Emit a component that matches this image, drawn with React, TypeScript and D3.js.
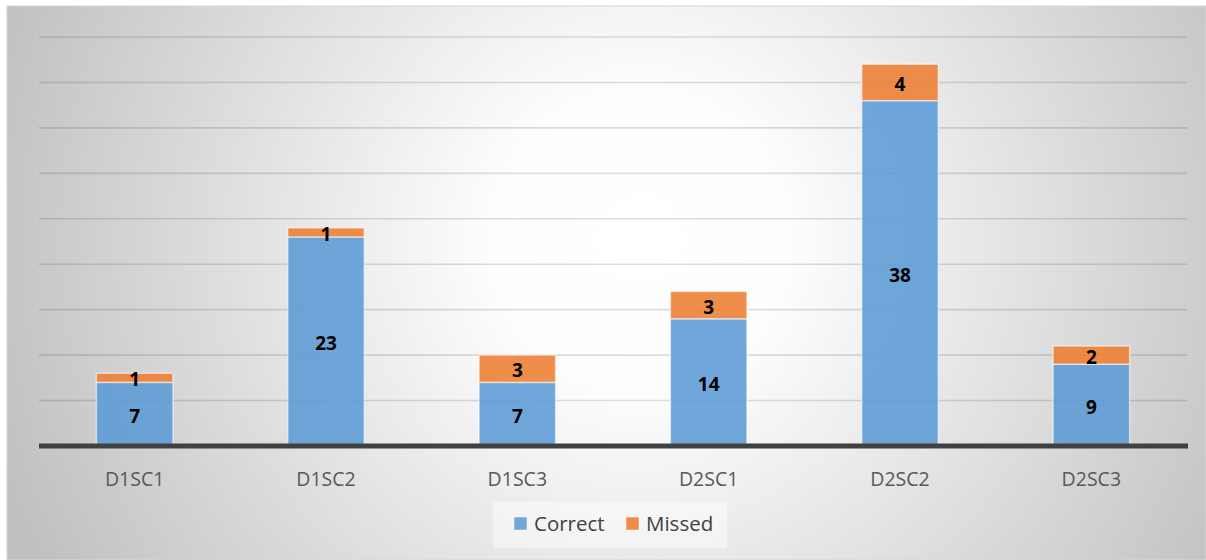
import React from "react";
import * as d3 from "d3";

const categories = ["D1SC1", "D1SC2", "D1SC3", "D2SC1", "D2SC2", "D2SC3"];
const correct = [7, 23, 7, 14, 38, 9];
const missed = [1, 1, 3, 3, 4, 2];
const seriesNames = ["Correct", "Missed"];
const seriesColors = ["#5b9bd5", "#ed7d31"];
const gridTicks = [5, 10, 15, 20, 25, 30, 35, 40, 45];

const W = 1206;
const H = 560;
const plot = { left: 39, right: 1187, top: 37, bottom: 446 };

export default function App() {
  const x = d3
    .scaleBand<string>()
    .domain(categories)
    .range([plot.left, plot.right])
    .paddingInner(0.6)
    .paddingOuter(0.3);
  const y = d3.scaleLinear().domain([0, 45]).range([plot.bottom, plot.top]);

  const rows = categories.map((c, i) => ({ cat: c, Correct: correct[i], Missed: missed[i] }));
  const stacked = d3.stack<any>().keys(seriesNames)(rows);

  const font = "'Open Sans', 'Liberation Sans', sans-serif";

  return (
    <svg
      width={W}
      height={H}
      style={{ position: "absolute", left: 0, top: 0, background: "#ffffff" }}
    >
      <defs>
        <radialGradient id="bg" gradientUnits="userSpaceOnUse" cx={640} cy={240} r={680}>
          <stop offset="0" stopColor="#ffffff" />
          <stop offset="0.22" stopColor="#fdfdfd" />
          <stop offset="1" stopColor="#c0c0c0" />
        </radialGradient>
      </defs>
      <rect x={7} y={6} width={W - 7} height={H - 6} fill="url(#bg)" stroke="#d6d6d6" strokeWidth={1} />

      {/* horizontal gridlines */}
      {gridTicks.map((t) => (
        <line
          key={t}
          x1={plot.left}
          x2={plot.right}
          y1={y(t)}
          y2={y(t)}
          stroke="#000000"
          strokeOpacity={0.13}
          strokeWidth={1.6}
        />
      ))}

      {/* stacked bars */}
      {stacked.map((layer, si) => (
        <g key={layer.key}>
          {layer.map((d, i) => (
            <rect
              key={i}
              x={x(categories[i])}
              y={y(d[1])}
              width={x.bandwidth()}
              height={y(d[0]) - y(d[1])}
              fill={seriesColors[si]}
              fillOpacity={0.88}
              stroke="#ffffff"
              strokeOpacity={0.55}
              strokeWidth={1.5}
            />
          ))}
        </g>
      ))}

      {/* value labels */}
      {stacked.map((layer) => (
        <g key={"lbl" + layer.key}>
          {layer.map((d, i) => (
            <text
              key={i}
              x={(x(categories[i]) as number) + x.bandwidth() / 2}
              y={(y(d[0]) + y(d[1])) / 2}
              dy="0.45em"
              textAnchor="middle"
              fontFamily={font}
              fontWeight="bold"
              fontSize={19}
              fill="#000000"
            >
              {d[1] - d[0]}
            </text>
          ))}
        </g>
      ))}

      {/* baseline */}
      <line x1={plot.left} x2={plot.right + 1} y1={plot.bottom} y2={plot.bottom} stroke="#404040" strokeWidth={5} />

      {/* category labels */}
      {categories.map((c) => (
        <text
          key={c}
          x={(x(c) as number) + x.bandwidth() / 2}
          y={479}
          dy="0.36em"
          textAnchor="middle"
          fontFamily={font}
          fontSize={19.5}
          fill="#595959"
        >
          {c}
        </text>
      ))}

      {/* legend */}
      <rect x={493} y={502} width={234} height={46} fill="#ffffff" fillOpacity={0.45} />
      {seriesNames.map((s, i) => {
        const lx = i === 0 ? 514 : 626;
        return (
          <g key={s}>
            <rect x={lx} y={517} width={13} height={13} fill={seriesColors[i]} fillOpacity={0.88} stroke="#ffffff" strokeOpacity={0.5} />
            <text x={lx + 20} y={523.5} dy="0.36em" fontFamily={font} fontSize={20.5} fill="#404040">
              {s}
            </text>
          </g>
        );
      })}
    </svg>
  );
}
